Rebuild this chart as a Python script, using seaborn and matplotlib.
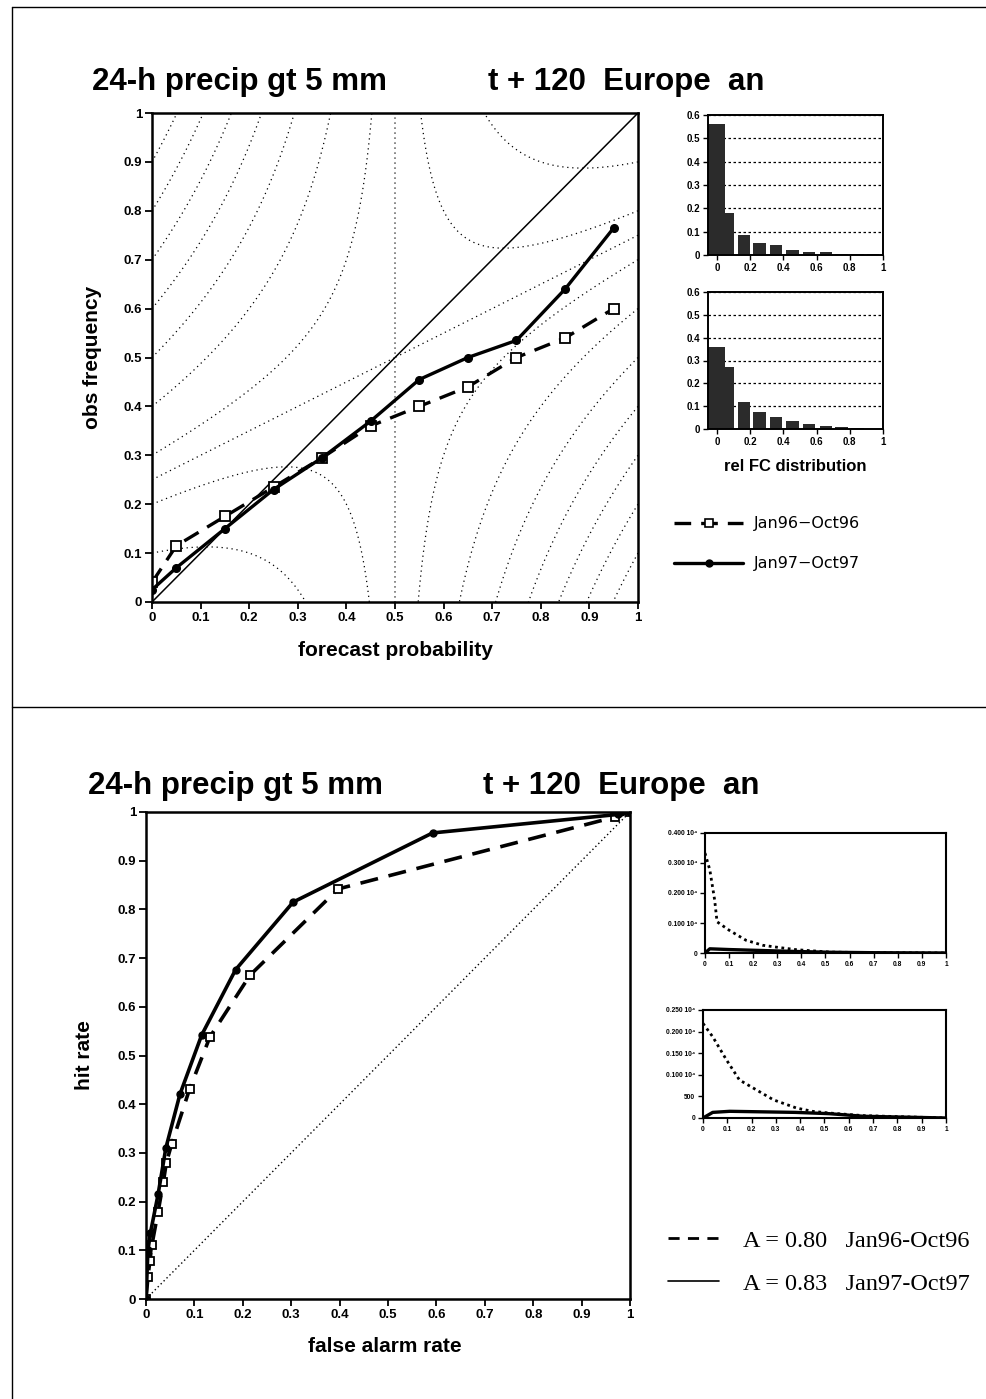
import numpy as np
import matplotlib
matplotlib.use("Agg")
import matplotlib.pyplot as plt
from matplotlib.lines import Line2D
import seaborn as sns

# ---------------- data ----------------
prob_ticks = [0, 0.1, 0.2, 0.3, 0.4, 0.5, 0.6, 0.7, 0.8, 0.9, 1.0]
prob_ticklabels = ["0", "0.1", "0.2", "0.3", "0.4", "0.5", "0.6", "0.7", "0.8", "0.9", "1"]

series_labels = ["Jan96\u2212Oct96", "Jan97\u2212Oct97"]

# reliability diagram
rel_prob = [0.0, 0.05, 0.15, 0.25, 0.35, 0.45, 0.55, 0.65, 0.75, 0.85, 0.95]
rel_obs_96 = [0.04, 0.115, 0.175, 0.235, 0.295, 0.36, 0.40, 0.44, 0.50, 0.54, 0.60]
rel_obs_97 = [0.025, 0.07, 0.15, 0.23, 0.295, 0.37, 0.455, 0.50, 0.535, 0.64, 0.765]

# Brier-score isolines (climate frequency and contour levels)
clim_freq = 0.5
bs_levels = [-0.15, -0.05, 0.0, 0.05, 0.15, 0.25, 0.35, 0.45, 0.55, 0.65]

# relative forecast distribution
hist_centers = [-0.0025, 0.075, 0.16, 0.255, 0.355, 0.455, 0.555, 0.655, 0.75, 0.845, 0.94]
hist_96 = [0.56, 0.18, 0.085, 0.05, 0.045, 0.022, 0.013, 0.013, 0.004, 0.004, 0.004]
hist_97 = [0.36, 0.27, 0.12, 0.075, 0.052, 0.035, 0.022, 0.014, 0.007, 0.006, 0.002]
hist_yticks = [0, 0.1, 0.2, 0.3, 0.4, 0.5, 0.6]
hist_yticklabels = ["0", "0.1", "0.2", "0.3", "0.4", "0.5", "0.6"]
hist_xticks = [0, 0.2, 0.4, 0.6, 0.8, 1.0]
hist_xticklabels = ["0", "0.2", "0.4", "0.6", "0.8", "1"]

# ROC
roc_far_96 = [0, 0.004, 0.008, 0.012, 0.025, 0.036, 0.042, 0.053, 0.09, 0.132, 0.215, 0.397, 0.97, 1.0]
roc_hr_96 = [0, 0.045, 0.078, 0.11, 0.179, 0.241, 0.28, 0.318, 0.431, 0.538, 0.665, 0.842, 0.99, 1.0]
roc_far_97 = [0, 0.004, 0.009, 0.025, 0.041, 0.070, 0.115, 0.185, 0.304, 0.592, 0.975, 1.0]
roc_hr_97 = [0, 0.10, 0.135, 0.215, 0.31, 0.42, 0.542, 0.676, 0.815, 0.957, 0.995, 1.0]
roc_area = [0.80, 0.83]
roc_legend_labels = ["A = 0.80   Jan96-Oct96", "A = 0.83   Jan97-Oct97"]

# small distribution panels next to the ROC
dist_a_x_dot = [0, 0.02, 0.04, 0.05, 0.1, 0.17, 0.24, 0.31, 0.38, 0.52, 0.7, 1.0]
dist_a_y_dot = [3330, 2770, 1770, 1040, 760, 425, 257, 180, 110, 30, 10, 0]
dist_a_x_sol = [0, 0.02, 0.1, 0.25, 0.38, 0.52, 0.7, 1.0]
dist_a_y_sol = [0, 140, 115, 80, 50, 25, 10, 0]
dist_a_yticks = [0, 1000, 2000, 3000, 4000]
dist_a_yticklabels = ["0", "0.100 10\u2074", "0.200 10\u2074", "0.300 10\u2074", "0.400 10\u2074"]

dist_b_x_dot = [0, 0.04, 0.096, 0.15, 0.22, 0.29, 0.385, 0.45, 0.52, 0.66, 1.0]
dist_b_y_dot = [2190, 1880, 1350, 880, 650, 420, 230, 155, 115, 55, 0]
dist_b_x_sol = [0, 0.04, 0.11, 0.38, 0.52, 0.66, 1.0]
dist_b_y_sol = [0, 130, 155, 130, 100, 40, 0]
dist_b_yticks = [0, 500, 1000, 1500, 2000, 2500]
dist_b_yticklabels = ["0", "500", "0.100 10\u2074", "0.150 10\u2074", "0.200 10\u2074", "0.250 10\u2074"]

title_left = "24-h precip gt 5 mm"
title_right = "t + 120  Europe  an"

# ---------------- style ----------------
sns.set_theme(style="ticks")
plt.rcParams["font.family"] = ["Liberation Sans", "DejaVu Sans"]
for key in ["axes.edgecolor", "xtick.color", "ytick.color", "text.color",
            "axes.labelcolor", "xtick.labelcolor", "ytick.labelcolor"]:
    plt.rcParams[key] = "black"

W, H = 987, 1399
fig = plt.figure(figsize=(W / 100, H / 100), dpi=100)
fig.patch.set_facecolor("white")


def px_axes(x0, y0, x1, y1):
    return fig.add_axes([x0 / W, 1 - y1 / H, (x1 - x0) / W, (y1 - y0) / H])


def ftext(x, y, s, **kw):
    kw.setdefault("color", "black")
    return fig.text(x / W, 1 - y / H, s, **kw)


def style_axes(ax, lw, tlen, tw, lsize):
    for sp in ax.spines.values():
        sp.set_linewidth(lw)
        sp.set_color("black")
        sp.set_visible(True)
    ax.tick_params(direction="out", length=tlen, width=tw, labelsize=lsize, pad=2,
                   top=False, right=False, colors="black", labelcolor="black")
    ax.set_facecolor("white")
    ax.set_xlabel("")
    ax.set_ylabel("")


solid_kw = dict(color="black", linewidth=2.4, linestyle="-")
dash_kw = dict(color="black", linewidth=2.4, linestyle=(0, (5, 3)))

# ---------------- top: reliability diagram ----------------
ax1 = px_axes(152, 113, 638, 602)
pp = np.linspace(0, 1, 400)
P, O = np.meshgrid(pp, pp)
F = (P - O) ** 2 - (O - clim_freq) ** 2
cs = ax1.contour(P, O, F, levels=bs_levels, colors="black", linewidths=0.9, linestyles="dotted")
try:
    cs.set_linestyle((0, (1, 3)))
except Exception:
    pass
ax1.axline((0, 0), slope=1, color="black", linewidth=1.1)
sns.lineplot(x=rel_prob, y=rel_obs_96, ax=ax1, sort=False, marker="s", markersize=6.5,
             markerfacecolor="white", markeredgecolor="black", markeredgewidth=1.3, **dash_kw)
sns.lineplot(x=rel_prob, y=rel_obs_97, ax=ax1, sort=False, marker="o", markersize=5.5,
             markerfacecolor="black", markeredgecolor="black", markeredgewidth=1, **solid_kw)
ax1.set_xlim(0, 1)
ax1.set_ylim(0, 1)
ax1.set_xticks(prob_ticks)
ax1.set_xticklabels(prob_ticklabels, fontweight="bold")
ax1.set_yticks(prob_ticks)
ax1.set_yticklabels(prob_ticklabels, fontweight="bold")
style_axes(ax1, 1.8, 5, 1.3, 9.5)

# histograms
hist_widths = [0.105, 0.05, 0.074, 0.074, 0.074, 0.074, 0.074, 0.074, 0.074, 0.08, 0.075]
for (y0, y1, vals) in [(115, 255, hist_96), (292, 429, hist_97)]:
    axh = px_axes(708, y0, 883, y1)
    axh.grid(axis="y", color="black", linewidth=0.9, linestyle=(0, (2, 2)), zorder=0)
    axh.set_axisbelow(True)
    axh.bar(hist_centers, vals, width=hist_widths, color="#2b2b2b", edgecolor="none", zorder=2)
    axh.set_xlim(-0.055, 1.0)
    axh.set_ylim(0, 0.6)
    axh.set_yticks(hist_yticks)
    axh.set_yticklabels(hist_yticklabels, fontweight="bold")
    axh.set_xticks(hist_xticks)
    axh.set_xticklabels(hist_xticklabels, fontweight="bold")
    style_axes(axh, 1.4, 3.5, 1.0, 7)

ftext(795, 467, "rel FC distribution", ha="center", va="center", fontsize=12, fontweight="bold")

# legend (top)
h96 = Line2D([], [], marker="s", markersize=6, markerfacecolor="white", markeredgecolor="black",
             markeredgewidth=1.2, **dash_kw)
h97 = Line2D([], [], marker="o", markersize=5, markerfacecolor="black", markeredgecolor="black",
             **solid_kw)
fig.legend([h96, h97], series_labels, loc="upper left",
           bbox_to_anchor=(660 / W, 1 - 502 / H), frameon=False, numpoints=1,
           handlelength=4.3, handletextpad=0.7, labelspacing=1.55,
           prop=dict(family="DejaVu Sans", size=11.5))

# titles and labels (top)
ftext(92, 90, title_left, fontsize=22.5, fontweight="bold", va="baseline")
ftext(488, 90, title_right, fontsize=22.5, fontweight="bold", va="baseline")
ftext(92, 357, "obs frequency", rotation=90, ha="center", va="center", fontsize=15, fontweight="bold")
ftext(395, 651, "forecast probability", ha="center", va="center", fontsize=15, fontweight="bold")

# ---------------- bottom: ROC ----------------
ax2 = px_axes(146, 812, 630, 1299)
ax2.axline((0, 0), slope=1, color="black", linewidth=1.0, linestyle=(0, (1, 2)))
sns.lineplot(x=roc_far_96, y=roc_hr_96, ax=ax2, sort=False, marker="s", markersize=6,
             markerfacecolor="white", markeredgecolor="black", markeredgewidth=1.3,
             **dict(dash_kw, linewidth=2.6))
sns.lineplot(x=roc_far_97, y=roc_hr_97, ax=ax2, sort=False, marker="o", markersize=5,
             markerfacecolor="black", markeredgecolor="black", markeredgewidth=1,
             **dict(solid_kw, linewidth=2.6))
ax2.set_xlim(0, 1)
ax2.set_ylim(0, 1)
ax2.set_xticks(prob_ticks)
ax2.set_xticklabels(prob_ticklabels, fontweight="bold")
ax2.set_yticks(prob_ticks)
ax2.set_yticklabels(prob_ticklabels, fontweight="bold")
style_axes(ax2, 1.8, 5, 1.3, 9.5)

# small distribution panels
for (box, xd, yd, xs, ys, yt, ytl, ymax) in [
        ((705, 833, 946, 953), dist_a_x_dot, dist_a_y_dot, dist_a_x_sol, dist_a_y_sol,
         dist_a_yticks, dist_a_yticklabels, 4000),
        ((703, 1010, 946, 1118), dist_b_x_dot, dist_b_y_dot, dist_b_x_sol, dist_b_y_sol,
         dist_b_yticks, dist_b_yticklabels, 2500)]:
    axs = px_axes(*box)
    sns.lineplot(x=xd, y=yd, ax=axs, sort=False, color="black", linewidth=2.0,
                 linestyle=(0, (1, 1.3)))
    sns.lineplot(x=xs, y=ys, ax=axs, sort=False, color="black", linewidth=2.4)
    axs.set_xlim(0, 1)
    axs.set_ylim(0, ymax)
    axs.set_xticks(prob_ticks)
    axs.set_xticklabels(prob_ticklabels, fontweight="bold")
    axs.set_yticks(yt)
    axs.set_yticklabels(ytl, fontweight="bold")
    style_axes(axs, 1.5, 3.5, 1.0, 4.8)

# legend (bottom)
hl96 = Line2D([], [], color="black", linewidth=2.0, linestyle=(0, (4, 3)))
hl97 = Line2D([], [], color="black", linewidth=1.2, linestyle="-")
fig.legend([hl96, hl97], roc_legend_labels, loc="upper left",
           bbox_to_anchor=(646 / W, 1 - 1208 / H), frameon=False,
           handlelength=2.1, handletextpad=1.0, labelspacing=0.85,
           prop=dict(family="Liberation Serif", size=17.5))

ftext(88, 794, title_left, fontsize=22.5, fontweight="bold", va="baseline")
ftext(483, 794, title_right, fontsize=22.5, fontweight="bold", va="baseline")
ftext(85, 1055, "hit rate", rotation=90, ha="center", va="center", fontsize=15, fontweight="bold")
ftext(385, 1347, "false alarm rate", ha="center", va="center", fontsize=15, fontweight="bold")

# page frame lines
for xs_, ys_ in [([12, 12], [7, H]), ([12, W], [7, 7]), ([12, W], [707, 707])]:
    fig.add_artist(Line2D([x / W for x in xs_], [1 - y / H for y in ys_],
                          transform=fig.transFigure, color="black", linewidth=1.0))

fig.savefig("out.png", dpi=100, facecolor="white")
